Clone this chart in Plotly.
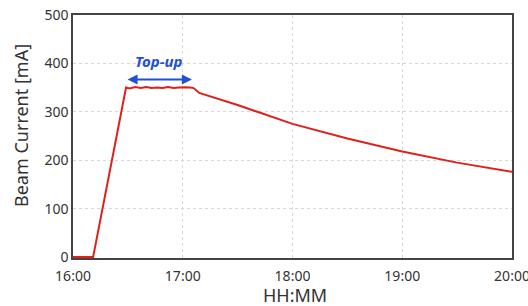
import plotly.graph_objects as go

times = ["2024-01-01 16:00", "2024-01-01 16:11", "2024-01-01 16:29", "2024-01-01 16:31",
         "2024-01-01 16:34", "2024-01-01 16:37", "2024-01-01 16:40", "2024-01-01 16:43",
         "2024-01-01 16:46", "2024-01-01 16:49", "2024-01-01 16:52", "2024-01-01 16:55",
         "2024-01-01 16:58", "2024-01-01 17:01", "2024-01-01 17:04", "2024-01-01 17:06",
         "2024-01-01 17:09", "2024-01-01 17:30", "2024-01-01 18:00", "2024-01-01 18:30",
         "2024-01-01 19:00", "2024-01-01 19:30", "2024-01-01 20:00"]
current = [0, 0, 350, 348, 351, 349, 351, 349, 350, 349, 351, 349, 350, 351, 350, 349,
           339, 314, 275, 245, 218, 195, 176]

tick_vals = ["2024-01-01 16:00", "2024-01-01 17:00", "2024-01-01 18:00",
             "2024-01-01 19:00", "2024-01-01 20:00"]
tick_text = ["16:00", "17:00", "18:00", "19:00", "20:00"]
y_ticks = [0, 100, 200, 300, 400, 500]

L, R, T, B = 73, 16, 15, 48
W, H = 528, 306

fig = go.Figure()
fig.add_trace(go.Scatter(x=times, y=current, mode="lines",
                         line=dict(color="#e0201c", width=2), showlegend=False,
                         cliponaxis=False))

fig.add_annotation(x="2024-01-01 17:05", y=367, ax="2024-01-01 16:29", ay=367,
                   xref="x", yref="y", axref="x", ayref="y",
                   showarrow=True, arrowhead=2, arrowside="end+start",
                   arrowsize=1, arrowwidth=2, arrowcolor="#1f50d8", text="")
fig.add_annotation(x="2024-01-01 16:47", y=404, text="<i><b>Top-up</b></i>",
                   showarrow=False, font=dict(size=15, color="#1f50d8", family="Noto Sans"))

# axis titles (pixel centres converted to paper coordinates)
fig.add_annotation(x=(21 - L) / (W - L - R), y=1 - (126 - T) / (H - T - B),
                   xref="paper", yref="paper", xanchor="center", yanchor="middle",
                   text="Beam Current [mA]", showarrow=False, textangle=-90,
                   font=dict(size=18, color="#333333"))
fig.add_annotation(x=(295 - L) / (W - L - R), y=1 - (295 - T) / (H - T - B),
                   xref="paper", yref="paper", xanchor="center", yanchor="middle",
                   text="HH:MM", showarrow=False, font=dict(size=18, color="#333333"))

fig.update_layout(
    width=W, height=H,
    margin=dict(l=L, r=R, t=T, b=B),
    paper_bgcolor="white", plot_bgcolor="white",
    font=dict(family="Noto Sans", color="#333333"),
    xaxis=dict(range=["2024-01-01 16:00", "2024-01-01 20:00"], tickvals=tick_vals,
               ticktext=tick_text, showgrid=True, gridcolor="#d8d8d8", griddash="dot",
               showline=True, linecolor="#444444", linewidth=1.5, mirror=True,
               ticks="", tickfont=dict(size=14, color="#333333"), automargin=False,
               ticklabeloverflow="allow", ticklabelstandoff=4),
    yaxis=dict(range=[-2, 500], tickvals=y_ticks, showgrid=True, gridcolor="#d8d8d8",
               griddash="dot", showline=True, linecolor="#444444", linewidth=1.5,
               mirror=True, ticks="", zeroline=False, automargin=False,
               tickfont=dict(size=14, color="#333333"), ticklabelstandoff=0),
)

fig.write_html("out.html", post_script="document.body.style.margin='0';",
               config={"displayModeBar": False})
